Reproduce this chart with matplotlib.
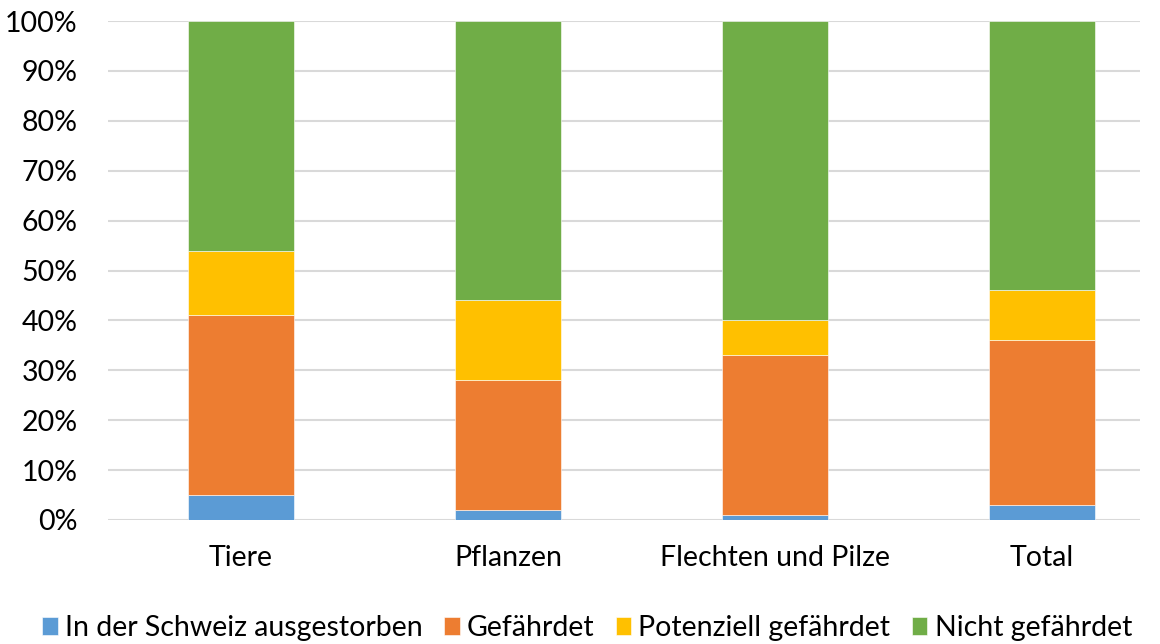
import numpy as np
import matplotlib.pyplot as plt
from matplotlib.ticker import PercentFormatter

plt.rcParams['font.family'] = ['Lato', 'DejaVu Sans']

categories = ["Tiere", "Pflanzen", "Flechten und Pilze", "Total"]
series_names = ["In der Schweiz ausgestorben", "Gefährdet", "Potenziell gefährdet", "Nicht gefährdet"]
ausgestorben = [5, 2, 1, 3]
gefaehrdet = [36, 26, 32, 33]
potenziell = [13, 16, 7, 10]
nicht_gefaehrdet = [46, 56, 60, 54]
colors = ["#5b9bd5", "#ed7d31", "#ffc000", "#70ad47"]

fig = plt.figure(figsize=(11.6, 6.44), dpi=100)
ax = fig.add_axes([108 / 1160, 1 - 520 / 644, (1140 - 108) / 1160, 499 / 644])

x = np.arange(len(categories))
bottom = np.zeros(len(categories))
for name, vals, c in zip(series_names, [ausgestorben, gefaehrdet, potenziell, nicht_gefaehrdet], colors):
    ax.bar(x, vals, 0.397, bottom=bottom, color=c, label=name,
           edgecolor="white", linewidth=0.4, zorder=3)
    bottom += np.array(vals)

ax.set_ylim(0, 100)
ax.set_xlim(-0.498, 3.367)
ax.set_yticks(np.arange(0, 101, 10))
ax.yaxis.set_major_formatter(PercentFormatter(decimals=0))
ax.set_xticks(x)
ax.set_xticklabels(categories)
ax.tick_params(axis="both", length=0, labelsize=20.5, colors="black")
ax.tick_params(axis="y", pad=22)
ax.tick_params(axis="x", pad=18)
ax.grid(axis="y", color="#d9d9d9", linewidth=1.5, zorder=0)
for s in ax.spines.values():
    s.set_visible(False)

# legend below the plot, small square handles
fig.legend(loc="center", bbox_to_anchor=(0.506, 1 - 628 / 644), ncol=4, frameon=False,
           fontsize=20.5, handlelength=0.55, handleheight=0.55, handletextpad=0.25,
           columnspacing=0.75, borderpad=0)

fig.savefig("out.png", dpi=100)
